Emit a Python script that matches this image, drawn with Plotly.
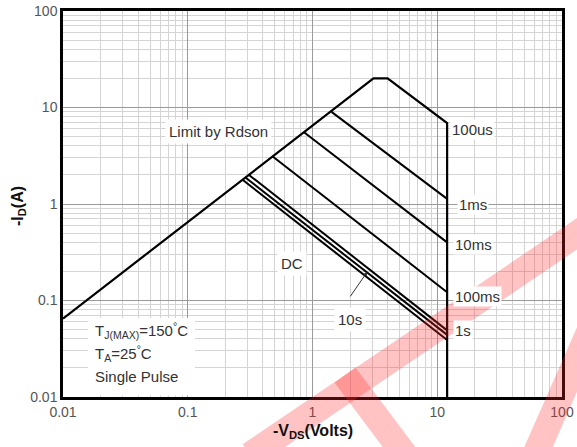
import plotly.graph_objects as go
import numpy as np

# ---- data ----
# Rdson limit / 100us outline: Rdson line, 20A plateau, 100us slope, 12V wall
outline_v = [0.01, 3.08, 4.0, 12.0, 12.0]
outline_i = [0.065, 20.0, 20.0, 6.9, 0.01]

pulse_names = ["1ms", "10ms", "100ms", "1s", "10s", "DC"]
pulse_v_start = [1.42, 0.86, 0.48, 0.31, 0.29, 0.275]
pulse_i_start = [9.0, 5.5, 3.1, 2.0, 1.88, 1.78]
pulse_v_end = [12.0, 12.0, 12.0, 12.0, 12.0, 12.0]
pulse_i_end = [1.13, 0.40, 0.122, 0.049, 0.044, 0.039]

tick_vals = [0.01, 0.1, 1, 10, 100]
tick_text = ["0.01", "0.1", "1", "10", "100"]

minor_vals = [m * 10.0 ** e for e in range(-2, 2) for m in range(2, 10)]

# label positions (data coords)
end_labels = ["100us", "1ms", "10ms", "100ms", "1s"]
end_label_v = [12.7, 14.3, 13.3, 13.3, 13.3]
end_label_i = [5.98, 0.977, 0.376, 0.111, 0.0494]

cond_lines = ["T<sub>J(MAX)</sub>=150<sup>°</sup>C", "T<sub>A</sub>=25<sup>°</sup>C", "Single Pulse"]
cond_i = [0.049, 0.028, 0.0165]

x_title = "<b>-V<sub>DS</sub>(Volts)</b>"
y_title = "<b>-I<sub>D</sub>(A)</b>"

fig = go.Figure()

fig.add_trace(go.Scatter(x=outline_v, y=outline_i, mode="lines",
                         line=dict(color="black", width=2.2), showlegend=False,
                         hoverinfo="skip"))
for n, xs, ys, xe, ye in zip(pulse_names, pulse_v_start, pulse_i_start, pulse_v_end, pulse_i_end):
    fig.add_trace(go.Scatter(x=[xs, xe], y=[ys, ye], mode="lines",
                             line=dict(color="black", width=2), showlegend=False,
                             name=n, hoverinfo="skip"))

FONT = "Liberation Sans, Arial, sans-serif"
txt_font = dict(family=FONT, size=15, color="#333")
title_font = dict(family=FONT, size=16, color="#111")

# pixel -> paper coords helpers
L, R, T, B = 63, 562, 11, 397
def px(x):
    return (x - L) / (R - L)
def py(y):
    return (B - y) / (B - T)

ann = []
for t, x, y in zip(end_labels, end_label_v, end_label_i):
    ann.append(dict(x=np.log10(x), y=np.log10(y), text=t, showarrow=False, xanchor="left",
                    yanchor="middle", font=txt_font, bgcolor="white", borderpad=1))
ann.append(dict(x=np.log10(0.177), y=np.log10(5.7), text="Limit by Rdson", showarrow=False,
                font=txt_font, bgcolor="white", borderpad=3))
ann.append(dict(x=np.log10(0.68), y=np.log10(0.239), text="DC", showarrow=False,
                font=txt_font, bgcolor="white", borderpad=3))
ann.append(dict(x=np.log10(1.98), y=np.log10(0.064), text="10s", showarrow=False,
                font=txt_font, bgcolor="white", borderpad=3))
# arrow for 10s
ann.append(dict(x=np.log10(2.75), y=np.log10(1.88 * 0.29 / 2.75), text="", showarrow=True,
                arrowhead=2, arrowsize=0.8, arrowwidth=1, arrowcolor="#333",
                ax=-18, ay=26, standoff=0))
for t, y in zip(cond_lines, cond_i):
    ann.append(dict(x=np.log10(0.0173), y=np.log10(y), xanchor="left", yanchor="middle",
                    text=t, align="left", showarrow=False, font=txt_font))
# axis titles
ann.append(dict(xref="paper", yref="paper", x=px(313), y=py(431), text=x_title,
                showarrow=False, font=title_font, xanchor="center", yanchor="middle"))
ann.append(dict(xref="paper", yref="paper", x=px(18), y=py(206), text=y_title,
                showarrow=False, font=title_font, textangle=-90,
                xanchor="center", yanchor="middle"))

shapes = [dict(type="rect", xref="paper", yref="paper", x0=px(88), x1=px(195),
               y0=py(395.5), y1=py(318), fillcolor="white", line=dict(width=0), layer="above")]

# watermark
wm = [((250, 455), (590, 225)), ((345, 375), (405, 455)), ((590, 330), (535, 455))]
for (x0, y0), (x1, y1) in wm:
    shapes.append(dict(type="line", xref="paper", yref="paper", x0=px(x0), y0=py(y0),
                       x1=px(x1), y1=py(y1), line=dict(color="rgba(255,40,40,0.28)", width=26),
                       layer="above"))

axis_common = dict(type="log", range=[-2, 2], tickvals=tick_vals, ticktext=tick_text,
                   showgrid=True, gridcolor="#9a9a9a", gridwidth=1,
                   minor=dict(tickvals=minor_vals, showgrid=True, gridcolor="#d4d4d4",
                              gridwidth=1, ticks=""),
                   showline=True, linecolor="black", linewidth=2.5, mirror=True,
                   ticks="", zeroline=False, automargin=False,
                   tickfont=dict(family=FONT, size=14, color="#555"))

fig.update_layout(
    width=577, height=447,
    margin=dict(l=63, r=15, t=11, b=50),
    paper_bgcolor="white", plot_bgcolor="white",
    xaxis=dict(**axis_common),
    yaxis=dict(**axis_common),
    annotations=ann, shapes=shapes,
)
fig.write_html("out.html")
